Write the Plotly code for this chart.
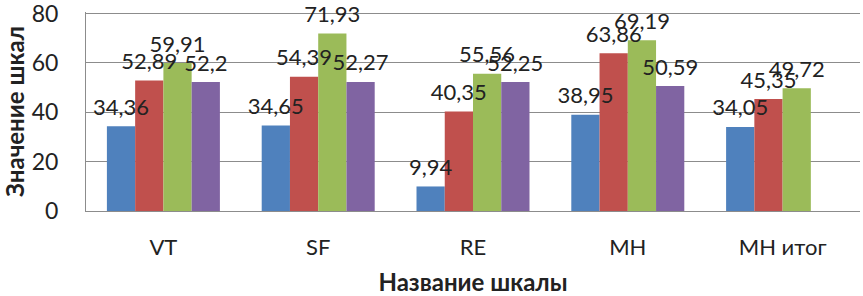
import plotly.graph_objects as go

categories = ["VT", "SF", "RE", "MH", "MH итог"]
series1 = [34.36, 34.65, 9.94, 38.95, 34.05]
series2 = [52.89, 54.39, 40.35, 63.86, 45.35]
series3 = [59.91, 71.93, 55.56, 69.19, 49.72]
series4 = [52.2, 52.27, 52.25, 50.59, None]
colors = ["#4F81BD", "#C0504D", "#9BBB59", "#8064A2"]
y_ticks = [0, 20, 40, 60, 80]

FONT = "Lato, Open Sans, sans-serif"

def fmt(v):
    return "" if v is None else str(v).replace(".", ",")

all_series = [series1, series2, series3, series4]
fig = go.Figure()
for i, (vals, c) in enumerate(zip(all_series, colors)):
    fig.add_trace(go.Bar(
        x=categories, y=vals, marker=dict(color=c, line=dict(width=0)),
        offsetgroup=str(i), hoverinfo="skip",
    ))
for i, vals in enumerate(all_series):
    fig.add_trace(go.Scatter(
        x=categories, y=vals, mode="markers+text", offsetgroup=str(i),
        marker=dict(size=8, color="rgba(0,0,0,0)"),
        text=[fmt(v) for v in vals], textposition="top center",
        textfont=dict(size=22, color="#222222", family=FONT),
        cliponaxis=False, hoverinfo="skip",
    ))

fig.update_layout(
    width=863, height=296,
    margin=dict(l=86, r=3, t=12, b=85),
    paper_bgcolor="white", plot_bgcolor="white",
    showlegend=False,
    barmode="group", bargap=0.27, bargroupgap=0,
    scattermode="group", scattergap=0.27,
    font=dict(family=FONT, color="#222222"),
)
fig.update_xaxes(
    automargin=False,
    showline=True, linecolor="#8c8c8c", linewidth=1,
    ticks="outside", ticklen=17, tickcolor="rgba(0,0,0,0)",
    tickfont=dict(size=22, family=FONT),
    title=dict(text="<b>Название шкалы</b>", font=dict(size=24, family=FONT)),
)
fig.update_yaxes(
    automargin=False,
    range=[0, 80.6], tickvals=y_ticks,
    ticklabeloverflow="allow",
    showgrid=True, gridcolor="#8c8c8c", gridwidth=1,
    showline=True, linecolor="#8c8c8c", linewidth=1,
    zeroline=False,
    ticks="outside", ticklen=22, tickcolor="rgba(0,0,0,0)",
    tickfont=dict(size=23, family=FONT),
    title=dict(text="<b>Значение шкал</b>", font=dict(size=24, family=FONT)),
)
fig.write_html(
    "out.html",
    config={"displayModeBar": False},
    post_script="document.body.style.margin='0';document.body.style.overflow='hidden';",
)
